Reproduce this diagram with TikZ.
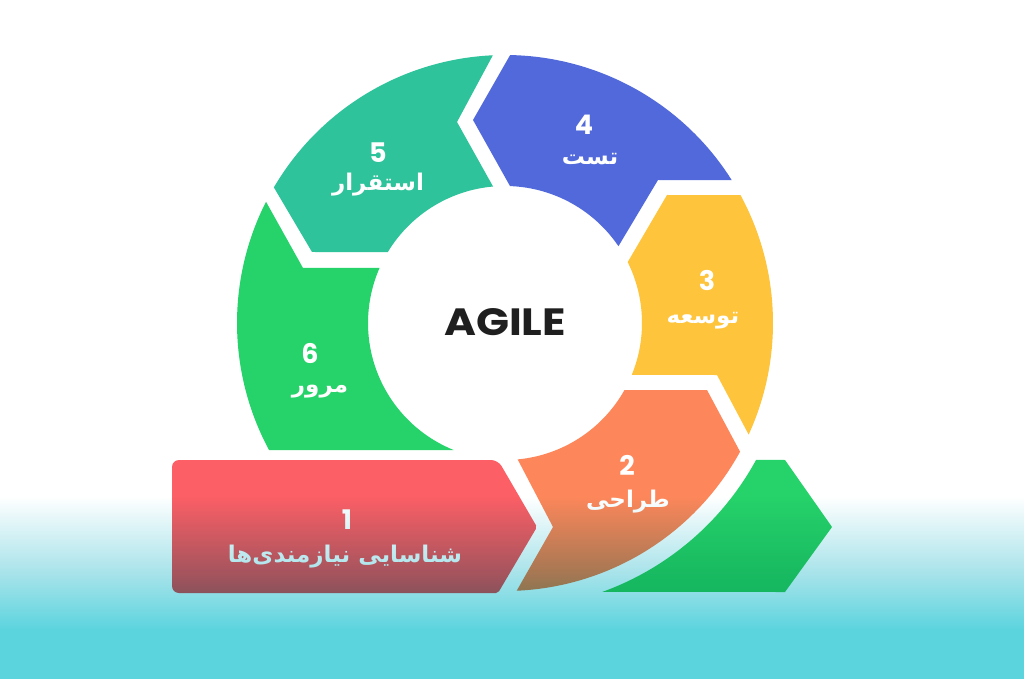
\documentclass[tikz,border=0pt]{standalone}
\usepackage{fontspec}
\usetikzlibrary{calc}
\TeXXeTstate=1
\newfontfamily\fa[Script=Arabic]{DejaVu Sans}
\newfontfamily\pop{Poppins}
\definecolor{cteal}{HTML}{2EC39B}
\definecolor{cblue}{HTML}{5169DA}
\definecolor{cyellow}{HTML}{FDC43C}
\definecolor{corange}{HTML}{FD875B}
\definecolor{cgreen}{HTML}{26D26A}
\definecolor{cred}{HTML}{FC5F66}
\definecolor{ccyan}{HTML}{5BD4DE}
\definecolor{ccyanm}{HTML}{A8E3EA}
\pgfdeclareverticalshading{bgfade}{100bp}{color(0bp)=(ccyan); color(38.2bp)=(ccyan); color(53.85bp)=(ccyanm); color(75bp)=(white); color(100bp)=(white)}
\tikzset{
  num/.style={text=white,font=\pop\bfseries\fontsize{27}{30}\selectfont,inner sep=0pt},
  lab/.style={text=white,font=\fa\bfseries\fontsize{23}{26}\selectfont,inner sep=0pt},
}
\begin{document}
\begin{tikzpicture}[x=1pt,y=1pt]
\useasboundingbox (0,0) rectangle (1024,678);
% background
\fill[white] (0,0) rectangle (1024,678);
\coordinate (C) at (505,355);
\def\R{268}
\def\r{137}
% 5 teal
\fill[cteal] ($(C)+(92.6:\R)$) arc[start angle=92.6, end angle=149.6, radius=\R]
  -- (312,426) -- ($(C)+(148.8:\r)$) arc[start angle=148.8, end angle=95, radius=\r]
  -- (457,556) -- cycle;
% 4 blue
\fill[cblue] ($(C)+(88.9:\R)$) arc[start angle=88.9, end angle=32.2, radius=\R]
  -- (658,498) -- ($(C)+(34.1:\r)$) arc[start angle=34.1, end angle=87.9, radius=\r]
  -- (473,558) -- cycle;
% 3 yellow
\fill[cyellow] ($(C)+(28.5:\R)$) arc[start angle=28.5, end angle=-24.6, radius=\R]
  -- (717,303) -- ($(C)+(-22.3:\r)$) arc[start angle=-22.3, end angle=26.4, radius=\r]
  -- (667,483) -- cycle;
% 2 orange
\fill[corange]
  ($(C)+(-28.7:\R)$) arc[start angle=-28.7, end angle=-87.5, radius=\R]
  -- (553,151) -- ($(C)+(-84.7:\r)$) arc[start angle=-84.7, end angle=-29.3, radius=\r]
  -- (707,288) -- cycle;
% 6 green
\fill[cgreen] ($(C)+(153.1:\R)$) arc[start angle=153.1, end angle=208.3, radius=\R]
  -- ($(C)+(248:\r)$) arc[start angle=248, end angle=156.3, radius=\r]
  -- (303,410) -- cycle;
% exit green arrow
\fill[cgreen]
  ($(C)+(-28.6:286)$) -- (785,218) -- (832,151) -- (785,86)
  -- ($(C)+(-70.1:286)$) arc[start angle=-70.1, end angle=-28.6, radius=286] -- cycle;
% 1 red box
\fill[cred,rounded corners=7]
  (172,151) -- (172,218) -- (498,218) [rounded corners=2] -- (537,151) -- (498,85)
  [rounded corners=7] -- (172,85) -- cycle;
% texts
\node[font=\pop\bfseries\fontsize{38}{40}\selectfont,text=black!88] (agile) at (505,356) {\scalebox{1.14}[1]{AGILE}};
\node[num] (n5) at (378,525) {5};
\node[lab] (t5) at (378,493) {\beginR استقرار\endR};
\node[num] (n4) at (584,553) {4};
\node[lab] (t4) at (590,519) {\beginR تست\endR};
\node[num] (n3) at (707,398) {3};
\node[lab] (t3) at (703,357) {\beginR توسعه\endR};
\node[num] (n6) at (310,325) {6};
\node[lab] (t6) at (320,286) {\beginR مرور\endR};
\node[num] (n2) at (627,213) {2};
\node[lab] (t2) at (628,176) {\beginR طراحی\endR};
\node[num] (n1) at (347,158) {1};
\node[lab] (t1) at (345,121) {\beginR شناسایی نیازمندی‌ها\endR};
% multiply overlay (white -> cyan towards the bottom)
\begin{scope}[blend mode=multiply]
\shade[shading=bgfade] (0,0) rectangle (1024,182);
\end{scope}
\end{tikzpicture}
\end{document}
